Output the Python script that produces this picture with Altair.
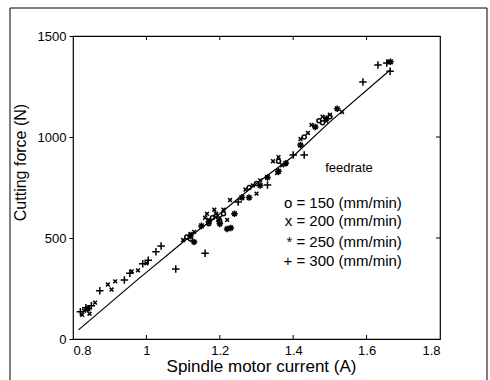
import altair as alt
import pandas as pd

# ---- data ----
plus_x = [0.82, 0.835, 0.85, 0.873, 0.94, 0.955, 0.99, 1.005, 1.026, 1.04, 1.08, 1.16,
          1.25, 1.33, 1.40, 1.43, 1.59, 1.631, 1.655, 1.664]
plus_y = [135, 155, 165, 239, 292, 326, 372, 390, 432, 460, 346, 425,
          678, 762, 911, 911, 1272, 1356, 1366, 1326]

cross_x = [0.825, 0.83, 0.845, 0.86, 0.895, 0.905, 0.915, 0.96, 0.977, 1.0, 1.1, 1.12, 1.13,
           1.16, 1.17, 1.185, 1.19, 1.2, 1.21, 1.22, 1.228, 1.165, 1.195, 1.27, 1.29, 1.3, 1.31,
           1.345, 1.36, 1.37, 1.356, 1.42, 1.44, 1.45, 1.46, 1.48, 1.49, 1.5, 1.533, 1.66]
cross_y = [120, 140, 125, 180, 270, 245, 285, 335, 340, 375, 490, 520, 530,
           600, 590, 640, 620, 600, 640, 590, 688, 620, 590, 740, 760, 720, 785,
           880, 900, 860, 822, 990, 1020, 1060, 1050, 1100, 1080, 1110, 1124, 1370]

circ_x = [0.84, 1.11, 1.12, 1.18, 1.19, 1.2, 1.21, 1.17, 1.28, 1.3, 1.36, 1.43, 1.47, 1.48, 1.5]
circ_y = [150, 505, 495, 600, 610, 580, 620, 570, 750, 770, 880, 1000, 1080, 1070, 1100]

star_x = [0.84, 1.12, 1.13, 1.15, 1.17, 1.2, 1.22, 1.23, 1.24, 1.26, 1.28, 1.31, 1.33,
          1.36, 1.38, 1.42, 1.46, 1.49, 1.52, 1.665]
star_y = [150, 510, 480, 560, 580, 570, 545, 550, 620, 700, 700, 760, 800,
          830, 870, 960, 1050, 1090, 1140, 1372]

fit_x = [0.815, 0.98, 1.0, 1.1, 1.2, 1.3, 1.4, 1.5, 1.664]
fit_y = [45, 300, 330, 480, 620, 770, 905, 1075, 1332]

legend_title = "feedrate"
legend_lines = ["o = 150 (mm/min)", "x = 200 (mm/min)", "* = 250 (mm/min)", "+ = 300 (mm/min)"]
legend_y = [673, 584, 480, 386]

x_ticks = [0.8, 1.0, 1.2, 1.4, 1.6, 1.8]
y_ticks = [0, 500, 1000, 1500]
x_inner_ticks = [1.0, 1.2, 1.4, 1.6]
y_inner_ticks = [500, 1000]

# ---- tables ----
pts = pd.concat([
    pd.DataFrame({"x": circ_x, "y": circ_y, "s": "o"}),
    pd.DataFrame({"x": cross_x, "y": cross_y, "s": "x"}),
    pd.DataFrame({"x": star_x, "y": star_y, "s": "*"}),
    pd.DataFrame({"x": plus_x, "y": plus_y, "s": "+"}),
], ignore_index=True)
fit = pd.DataFrame({"x": fit_x, "y": fit_y})
leg = pd.DataFrame({"x": [1.696] * len(legend_lines), "y": legend_y, "t": legend_lines})
legt = pd.DataFrame({"x": [1.552], "y": [846], "t": [legend_title]})

W, H = 367, 303
FONT = "Liberation Sans"

xs = alt.Scale(domain=[0.8, 1.8], nice=False)
ys = alt.Scale(domain=[0, 1500], nice=False)

X = alt.X("x:Q", scale=xs, axis=alt.Axis(values=x_ticks, format="~g", title="Spindle motor current (A)",
                                         grid=False, domain=False, ticks=False, labelPadding=5,
                                         labelFontSize=13, labelFont=FONT, labelColor="black",
                                         titleFont=FONT, titleFontSize=17, titleFontWeight="normal",
                                         titleColor="black", titleX=188, titleY=27,
                                         titleBaseline="middle"))
Y = alt.Y("y:Q", scale=ys, axis=alt.Axis(values=y_ticks, format="d", title="Cutting force (N)",
                                         grid=False, domain=False, ticks=True, tickSize=4,
                                         tickColor="black", labelPadding=3,
                                         labelFontSize=13, labelFont=FONT, labelColor="black",
                                         titleFont=FONT, titleFontSize=16, titleFontWeight="normal",
                                         titleColor="black", titleX=-53, titleY=126,
                                         titleAngle=270, titleBaseline="middle", titleAlign="center"))

shape_scale = alt.Scale(
    domain=["o", "x", "*", "+"],
    range=["circle",
           "M-0.7,-0.7L0.7,0.7M-0.7,0.7L0.7,-0.7",
           "M-1,0L1,0M0,-1L0,1M-0.7,-0.7L0.7,0.7M-0.7,0.7L0.7,-0.7",
           "M-1,0L1,0M0,-1L0,1"])
size_scale = alt.Scale(domain=["o", "x", "*", "+"], range=[16, 56, 12, 56])

points = alt.Chart(pts).mark_point(filled=False, color="black", strokeWidth=1.5, opacity=1).encode(
    x=X, y=Y,
    shape=alt.Shape("s:N", scale=shape_scale, legend=None),
    size=alt.Size("s:N", scale=size_scale, legend=None),
)

line = alt.Chart(fit).mark_line(color="black", strokeWidth=1.2).encode(x=X, y=Y)

legend_txt = alt.Chart(leg).mark_text(align="right", baseline="middle", font=FONT, fontSize=15,
                                      color="black").encode(x=X, y=Y, text="t:N")
legend_ttl = alt.Chart(legt).mark_text(align="center", baseline="middle", font=FONT, fontSize=13,
                                       color="black").encode(x=X, y=Y, text="t:N")

xt = pd.DataFrame({"x": x_inner_ticks})
yt = pd.DataFrame({"y": y_inner_ticks})
tick_bottom = alt.Chart(xt).mark_rule(color="black").encode(
    x=alt.X("x:Q", scale=xs), y=alt.value(H), y2=alt.value(H - 4))
tick_top = alt.Chart(xt).mark_rule(color="black").encode(
    x=alt.X("x:Q", scale=xs), y=alt.value(0), y2=alt.value(4))
tick_right = alt.Chart(yt).mark_rule(color="black").encode(
    y=alt.Y("y:Q", scale=ys), x=alt.value(W), x2=alt.value(W - 4))

frame = alt.Chart(pd.DataFrame({"a": [0]})).mark_rect(
    fill=None, stroke="black", strokeWidth=1, clip=False).encode(
    x=alt.value(-63), x2=alt.value(414), y=alt.value(-28), y2=alt.value(H + 60))

chart = alt.layer(frame, line, points, legend_ttl, legend_txt, tick_bottom, tick_top, tick_right).properties(
    width=W, height=H,
    autosize=alt.AutoSizeParams(type="none"),
    padding={"left": 73, "top": 36, "right": 50, "bottom": 41},
    background="white",
).configure_view(stroke="black", strokeWidth=1.2)

chart.save("out.html", embed_options={"renderer": "svg", "actions": False})
